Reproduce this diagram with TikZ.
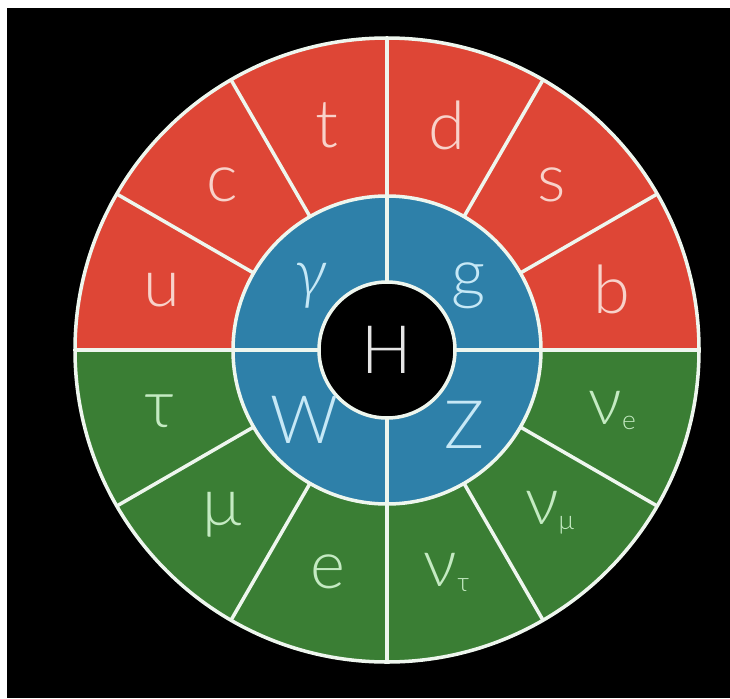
\documentclass[tikz,border=0pt]{standalone}
\usepackage{fontspec}
\setmainfont{Lato}[UprightFont=* Light, ItalicFont=* Light Italic]
\usepackage{tikz}
\usetikzlibrary{positioning}
\usepackage{xcolor}
\definecolor{quarkred}{HTML}{DE4636}
\definecolor{leptongreen}{HTML}{3A7E34}
\definecolor{bosonblue}{HTML}{2E80A9}
\definecolor{quarktext}{HTML}{F8D2CA}
\definecolor{leptontext}{HTML}{C4EAC2}
\definecolor{bosontext}{HTML}{C6E8F6}
\definecolor{ringline}{HTML}{EEF6EE}

\newcommand{\subsm}[1]{\raisebox{-3pt}{\fontsize{15}{15}\selectfont #1}}

\begin{document}
\begin{tikzpicture}[
    x=0.02cm, y=0.02cm,
    label/.style={font=\fontsize{38}{40}\selectfont, inner sep=0pt},
    quark/.style={label, text=quarktext},
    lepton/.style={label, text=leptontext},
    boson/.style={label, text=bosontext},
    ringline/.style={draw=ringline, line width=2pt}]
% frame
\fill[white] (0,0) rectangle (730,698);
\fill[black] (7,0) rectangle (730,690);
\coordinate (O) at (387,348);
% rings
\fill[leptongreen] (O) circle (312);
\fill[quarkred] (O) ++(0:312) arc (0:180:312) -- cycle;
\fill[bosonblue] (O) circle (154);
\fill[black] (O) circle (68);
\foreach \a in {0,30,...,330}
  \draw[ringline] (O) ++(\a:154) -- ++(\a:158);
\foreach \a in {0,90,180,270}
  \draw[ringline] (O) ++(\a:68) -- ++(\a:86);
\draw[ringline] (O) circle (312);
\draw[ringline] (O) circle (154);
\draw[ringline] (O) circle (68);
% quarks
\node[quark] (u) at ([shift={(165:233)}]O) {u};
\node[quark] (c) at ([shift={(135:233)}]O) {c};
\node[quark] (t) at ([shift={(105:233)}]O) {t};
\node[quark] (d) at ([shift={(75:233)}]O) {d};
\node[quark] (s) at ([shift={(45:233)}]O) {s};
\node[quark] (b) at ([shift={(15:233)}]O) {b};
% leptons
\node[lepton] (tau) at ([shift={(195:235)}]O) {τ};
\node[lepton] (mu) at ([shift={(225:233)}]O) {μ};
\node[lepton] (e) at ([shift={(255:230)}]O) {e};
\node[lepton] (nutau) at ([shift={(285:230)}]O) {ν\subsm{τ}};
\node[lepton] (numu) at ([shift={(315:230)}]O) {ν\subsm{μ}};
\node[lepton] (nue) at ([shift={(345:233)}]O) {ν\subsm{e}};
% bosons
\node[boson] (gamma) at ([shift={(140:100)}]O) {\itshape γ};
\node[boson] (g) at ([shift={(38:104)}]O) {g};
\node[boson] (W) at ([shift={(220:108)}]O) {W};
\node[boson] (Z) at ([shift={(316:108)}]O) {Z};
\node[label, text=white!90!black] (H) at (O) {H};
\end{tikzpicture}
\end{document}
